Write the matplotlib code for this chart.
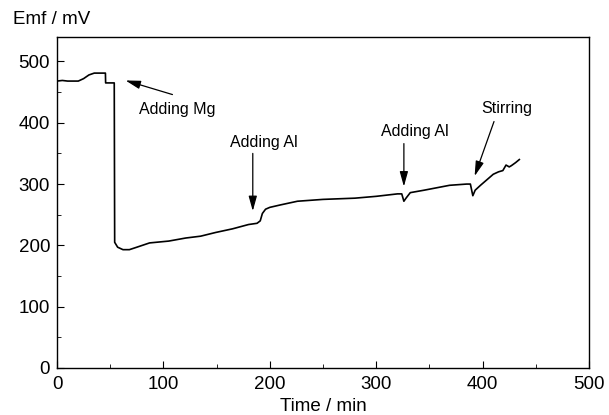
import matplotlib.pyplot as plt
from matplotlib.ticker import MultipleLocator

plt.rcParams['font.family'] = ['Liberation Sans', 'DejaVu Sans']

# emf trace
time = [0, 5, 10, 20, 25, 30, 35, 42, 45.5, 45.7, 53.8, 54.2, 57, 62, 68, 75,
        87, 105, 121, 135, 149, 165, 180, 188, 191, 193, 196, 200, 210, 226,
        250, 280, 300, 320, 324, 326, 328, 332, 345, 369, 385, 388.5, 390.8,
        393, 398, 404, 410, 415, 419, 422, 425, 427, 431, 434.5]
emf = [468, 469, 468, 468, 472, 478, 481, 481, 481, 465, 465, 205, 197, 193,
       193, 197, 204, 207, 212, 215, 221, 227, 234, 236, 240, 252, 259, 262,
       266, 272, 275, 277, 280, 284, 284, 272, 277, 286, 290, 298, 300, 300,
       281, 290, 298, 307, 316, 320, 322, 331, 328, 330, 335, 340]

# annotations: text, text position, arrow tail, arrow head
notes = ["Adding Mg", "Adding Al", "Adding Al", "Stirring"]
text_xy = [(77, 421), (163, 367), (304.5, 386), (399, 424)]
tail_xy = [(108.5, 446), (184, 350), (326, 366), (410.7, 402)]
head_xy = [(64.4, 469), (184, 256), (326, 296), (392.5, 313)]

fig = plt.figure(figsize=(6.09, 4.15), dpi=100)
ax = fig.add_axes([0.0936, 0.1133, 0.8736, 0.7977])

ax.plot(time, emf, color='black', lw=1.2)

for t, txy, a, b in zip(notes, text_xy, tail_xy, head_xy):
    ax.text(txy[0], txy[1], t, fontsize=11.5, va='center', ha='left')
    ax.annotate('', xy=b, xytext=a,
                arrowprops=dict(arrowstyle='-|>,head_length=0.9,head_width=0.25',
                                color='black', lw=0.9, shrinkA=0, shrinkB=0))

ax.set_xlim(0, 500)
ax.set_ylim(0, 540)
ax.xaxis.set_major_locator(MultipleLocator(100))
ax.xaxis.set_minor_locator(MultipleLocator(50))
ax.yaxis.set_major_locator(MultipleLocator(100))
ax.yaxis.set_minor_locator(MultipleLocator(50))
ax.tick_params(which='both', direction='in', labelsize=13.5)
ax.tick_params(axis='x', pad=6)
ax.tick_params(axis='y', pad=5)
ax.tick_params(which='major', length=5)
ax.tick_params(which='minor', length=3)
for s in ax.spines.values():
    s.set_linewidth(1.0)

fig.text(0.021, 0.952, "Emf / mV", fontsize=13.5, va='center', ha='left')
fig.text(0.531, 0.02, "Time / min", fontsize=13.5, va='center', ha='center')

fig.savefig('out.png', dpi=100)
